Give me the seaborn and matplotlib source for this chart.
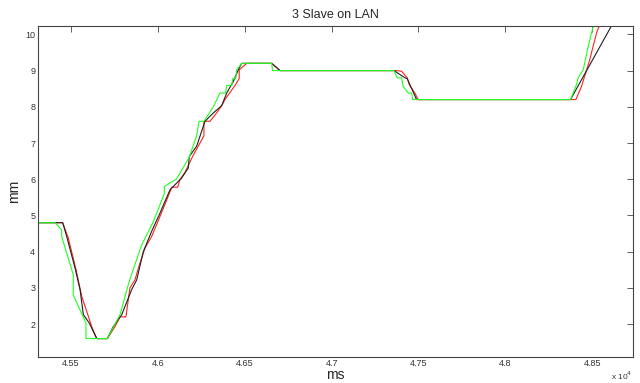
import numpy as np
import pandas as pd
import matplotlib
matplotlib.use("Agg")
import matplotlib.pyplot as plt
import seaborn as sns

# black trace
black_ms = [45310, 45452, 45475, 45523, 45552, 45571, 45605, 45648, 45709, 45743, 45792,
            45849, 45878, 45916, 45964, 46008, 46041, 46070, 46136, 46175, 46181, 46223,
            46271, 46319, 46367, 46396, 46434, 46463, 46482, 46655, 46703, 47359, 47422,
            47435, 47489, 48375, 48659]
black_mm = [4.8, 4.8, 4.42, 3.55, 2.95, 2.26, 2.03, 1.6, 1.6, 1.93, 2.26,
            2.95, 3.22, 4.0, 4.56, 5.02, 5.39, 5.71, 6.03, 6.31, 6.63, 6.91,
            7.6, 7.83, 8.03, 8.38, 8.7, 9.02, 9.2, 9.2, 9.0, 9.0, 8.8,
            8.78, 8.2, 8.2, 10.65]

# red trace
red_ms = [45310, 45452, 45484, 45529, 45562, 45594, 45619, 45648, 45709, 45753, 45782,
          45816, 45839, 45868, 45897, 45926, 45964, 46012, 46051, 46080, 46114, 46127,
          46156, 46200, 46265, 46265, 46300, 46338, 46367, 46386, 46444, 46468, 46468,
          46511, 46655, 46703, 47374, 47403, 47435, 47447, 47479, 47498, 48406, 48438,
          48486, 48505, 48525, 48545]
red_mm = [4.8, 4.8, 4.38, 3.5, 2.76, 2.3, 1.93, 1.6, 1.6, 1.93, 2.2,
          2.2, 3.0, 3.22, 3.69, 4.1, 4.42, 4.97, 5.43, 5.78, 5.78, 5.99,
          6.19, 6.63, 7.2, 7.6, 7.6, 7.83, 8.03, 8.2, 8.59, 8.78, 9.02,
          9.2, 9.2, 9.0, 9.0, 8.98, 8.8, 8.61, 8.38, 8.2, 8.2, 8.56,
          9.3, 9.67, 10.04, 10.3]

# green trace
green_ms = [45310, 45408, 45446, 45446, 45513, 45513, 45586, 45586, 45709, 45782, 45835,
            45907, 45974, 46037, 46037, 46108, 46181, 46194, 46223, 46237, 46265, 46290,
            46319, 46357, 46390, 46396, 46425, 46431, 46448, 46453, 46468, 46482, 46655,
            46660, 47359, 47378, 47403, 47412, 47441, 47461, 47466, 48375, 48409, 48419,
            48448, 48467, 48477, 48496, 48510]
green_mm = [4.8, 4.8, 4.6, 4.42, 3.36, 2.8, 2.03, 1.6, 1.6, 2.26, 3.18,
            4.19, 4.83, 5.6, 5.8, 6.01, 6.61, 6.8, 7.2, 7.6, 7.6, 7.78,
            8.0, 8.38, 8.38, 8.59, 8.59, 8.78, 8.78, 9.02, 9.11, 9.2, 9.2,
            9.0, 9.0, 8.8, 8.8, 8.56, 8.38, 8.38, 8.2, 8.2, 8.61, 8.8,
            9.02, 9.44, 9.67, 10.04, 10.3]

xtick_vals = [45500, 46000, 46500, 47000, 47500, 48000, 48500]
xtick_labels = ["4.55", "4.6", "4.65", "4.7", "4.75", "4.8", "4.85"]
ytick_vals = [2, 3, 4, 5, 6, 7, 8, 9, 10]

sns.set_style("white")
plt.rcParams["font.family"] = ["Liberation Sans", "DejaVu Sans"]

fig = plt.figure(figsize=(6.4, 3.83), dpi=100)
ax = fig.add_axes([0.0594, 0.0687, 0.9292, 0.8633])

traces = [("red", red_ms, red_mm, "#ff2020"),
          ("black", black_ms, black_mm, "#202020"),
          ("green", green_ms, green_mm, "#20ff20")]
for name, xs, ys, col in traces:
    df = pd.DataFrame({"ms": xs, "mm": ys})
    sns.lineplot(data=df, x="ms", y="mm", sort=False, estimator=None,
                 color=col, lw=0.8, ax=ax)

ax.set_xlim(45310, 48733)
ax.set_ylim(1.1, 10.23)
ax.set_xticks(xtick_vals)
ax.set_xticklabels(xtick_labels)
ax.set_yticks(ytick_vals)
ax.tick_params(direction="in", length=4, width=0.6, color="#444444",
               labelsize=6.5, labelcolor="#333333", top=True, right=True, pad=2)
for s in ax.spines.values():
    s.set_color("#444444")
    s.set_linewidth(0.8)

ax.set_title("3 Slave on LAN", fontsize=9, pad=6)
ax.set_xlabel("ms", fontsize=10, labelpad=0)
ax.set_ylabel("mm", fontsize=10, labelpad=3)
ax.text(1.0, -0.058, "x 10$^4$", transform=ax.transAxes, ha="right", va="center",
        fontsize=6, color="#333333")

fig.savefig("out.png", dpi=100)
